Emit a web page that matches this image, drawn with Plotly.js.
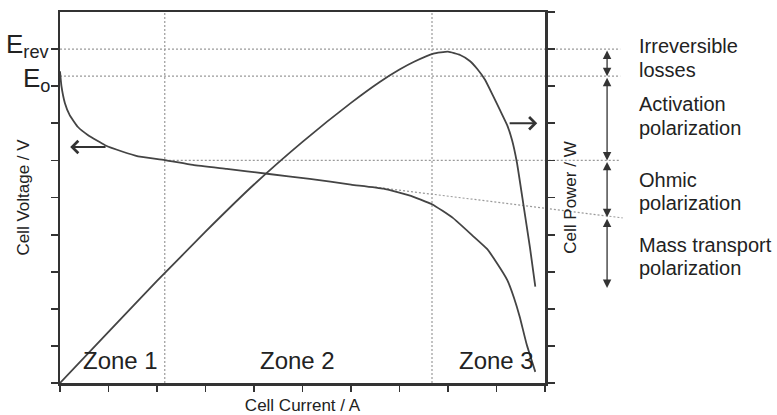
<!DOCTYPE html>
<html><head><meta charset="utf-8">
<script src="https://cdn.plot.ly/plotly-3.0.1.min.js"></script>
<style>html,body{margin:0;padding:0;background:#fff}#chart{width:777px;height:415px}</style>
</head><body><div id="chart"></div>
<script>
// Polarization curve (left axis, Cell Voltage)
const currentV = [0, 0.03, 0.1, 0.2, 0.37, 0.58, 0.93, 1.28, 1.61, 2.16, 2.74, 3.44, 4.27, 5.15, 6.0, 6.67, 7.2, 7.67, 8.1, 8.5, 8.8, 9.0, 9.22, 9.36, 9.48, 9.62, 9.8];
const voltage  = [8.4, 8.0, 7.55, 7.22, 6.9, 6.68, 6.41, 6.24, 6.11, 6.01, 5.88, 5.77, 5.64, 5.5, 5.35, 5.24, 5.06, 4.82, 4.45, 3.98, 3.62, 3.25, 2.78, 2.3, 1.78, 1.05, 0.3];
// Power curve (right axis, Cell Power)
const currentP = [0, 1, 2, 3, 4, 5, 6, 6.6, 7, 7.3, 7.7, 8, 8.25, 8.45, 8.6, 8.76, 8.93, 9.07, 9.22, 9.32, 9.42, 9.55, 9.69, 9.8];
const power    = [0, 1.38, 2.75, 4.08, 5.35, 6.5, 7.55, 8.12, 8.45, 8.66, 8.88, 8.93, 8.84, 8.68, 8.47, 8.18, 7.74, 7.36, 6.95, 6.55, 5.95, 4.85, 3.65, 2.6];
// Reference levels and zones
const X_MAX = 10;
const E_REV = 9.0;
const E_O = 8.27;
const ZONE_BOUNDS = [2.16, 7.67];
const ACT_OHM = 6.0;
const OHM_MASS = 4.47;
const MASS_END = 2.56;
const GUIDE_END = 11.55;
const ohmicLineI = [6.5, 11.6];
const ohmicLineV = [5.28, 4.45];
const zoneLabels = ['Zone 1', 'Zone 2', 'Zone 3'];
const zoneLabelX = [1.24, 4.9, 9.0];
const zoneLabelY = 0.62;
const lossSegments = [[E_REV, E_O], [E_O, ACT_OHM], [ACT_OHM, OHM_MASS], [OHM_MASS, MASS_END]];
const lossLines = ['Irreversible', 'losses', 'Activation', 'polarization', 'Ohmic', 'polarization', 'Mass transport', 'polarization'];
const lossLineY = [9.08, 8.44, 7.52, 6.87, 5.47, 4.85, 3.72, 3.10];

const INK = '#333';
const GUIDE = '#9a9a9a';
const FONT = 'Liberation Sans, Arial, sans-serif';
const P = v => v / X_MAX;

const traces = [
  {x: currentV, y: voltage, type: 'scatter', mode: 'lines', yaxis: 'y',
   line: {color: '#444', width: 1.8, shape: 'spline', smoothing: 0.4}, hoverinfo: 'skip'},
  {x: currentP, y: power, type: 'scatter', mode: 'lines', yaxis: 'y2',
   line: {color: '#444', width: 1.8, shape: 'spline', smoothing: 0.4}, hoverinfo: 'skip'}
];

const dotted = {color: GUIDE, width: 1.2, dash: '2px,2px'};
const shapes = [];
ZONE_BOUNDS.forEach(b => shapes.push({type: 'line', layer: 'below', xref: 'x', yref: 'paper', x0: b, x1: b, y0: 0, y1: 1, line: dotted}));
[E_REV, E_O].forEach(v => shapes.push({type: 'line', layer: 'below', xref: 'paper', yref: 'y', x0: 0, x1: P(GUIDE_END), y0: v, y1: v, line: dotted}));
shapes.push({type: 'line', layer: 'below', xref: 'paper', yref: 'y', x0: P(ZONE_BOUNDS[0]), x1: P(GUIDE_END), y0: ACT_OHM, y1: ACT_OHM, line: dotted});
shapes.push({type: 'line', layer: 'below', xref: 'paper', yref: 'y', x0: P(ohmicLineI[0]), x1: P(ohmicLineI[1]), y0: ohmicLineV[0], y1: ohmicLineV[1], line: dotted});

const annotations = [];
const txt = {family: FONT, color: '#222'};
annotations.push({xref: 'paper', yref: 'y', x: 0, y: E_REV, xshift: -8, yshift: 4, xanchor: 'right', yanchor: 'middle', showarrow: false,
  text: 'E<sub>rev</sub>', font: Object.assign({size: 26}, txt)});
annotations.push({xref: 'paper', yref: 'y', x: 0, y: E_O, xshift: -8, yshift: -3, xanchor: 'right', yanchor: 'middle', showarrow: false,
  text: 'E<sub>o</sub>', font: Object.assign({size: 26}, txt)});
zoneLabels.forEach((z, i) => annotations.push({xref: 'x', yref: 'y', x: zoneLabelX[i], y: zoneLabelY, showarrow: false,
  text: z, font: Object.assign({size: 24}, txt)}));
lossLines.forEach((t, i) => annotations.push({xref: 'paper', yref: 'y', x: 1.19, y: lossLineY[i], xanchor: 'left', yanchor: 'middle',
  showarrow: false, text: t, font: Object.assign({size: 20}, txt)}));
lossSegments.forEach(s => annotations.push({xref: 'paper', yref: 'y', x: 1.128, y: s[1], axref: 'pixel', ax: 0, ayref: 'y', ay: s[0],
  text: '', showarrow: true, arrowside: 'end+start', arrowhead: 2, arrowsize: 1.3, arrowwidth: 1.3, arrowcolor: INK, standoff: 0, startstandoff: 0}));
// direction arrows
annotations.push({xref: 'x', yref: 'y', x: 0.21, y: 6.36, axref: 'x', ax: 0.97, ayref: 'y', ay: 6.36, text: '', showarrow: true,
  arrowhead: 4, arrowsize: 1.2, arrowwidth: 2, arrowcolor: INK, standoff: 0});
annotations.push({xref: 'x', yref: 'y2', x: 9.84, y: 7.0, axref: 'x', ax: 9.24, ayref: 'y2', ay: 7.0, text: '', showarrow: true,
  arrowhead: 4, arrowsize: 1.2, arrowwidth: 2, arrowcolor: INK, standoff: 0});

const axisCommon = {showgrid: false, zeroline: false, showline: true, linecolor: INK, linewidth: 2.5,
  ticks: 'outside', tickcolor: INK, tickwidth: 1.8, ticklen: 6, showticklabels: false, fixedrange: true};

const layout = {
  width: 777, height: 415,
  margin: {l: 60, r: 232, t: 12, b: 32},
  paper_bgcolor: '#fff', plot_bgcolor: '#fff',
  showlegend: false,
  font: {family: FONT, color: '#222'},
  xaxis: Object.assign({}, axisCommon, {range: [0, X_MAX], dtick: 1, tick0: 0, mirror: true,
    title: {text: 'Cell Current / A', font: {size: 17, family: FONT, color: '#222'}, standoff: 9}}),
  yaxis: Object.assign({}, axisCommon, {range: [0, 10], tickvals: [0,1,2,3,4,5,6,7,8,9], ticklen: 7,
    title: {text: 'Cell Voltage / V', font: {size: 17, family: FONT, color: '#222'}, standoff: 17}}),
  yaxis2: Object.assign({}, axisCommon, {range: [0, 10], dtick: 1, tick0: 0, overlaying: 'y', side: 'right', ticklen: 7,
    title: {text: 'Cell Power / W', font: {size: 17, family: FONT, color: '#222'}, standoff: 11}}),
  shapes: shapes,
  annotations: annotations
};

Plotly.newPlot('chart', traces, layout, {displayModeBar: false, staticPlot: true});
</script></body></html>
